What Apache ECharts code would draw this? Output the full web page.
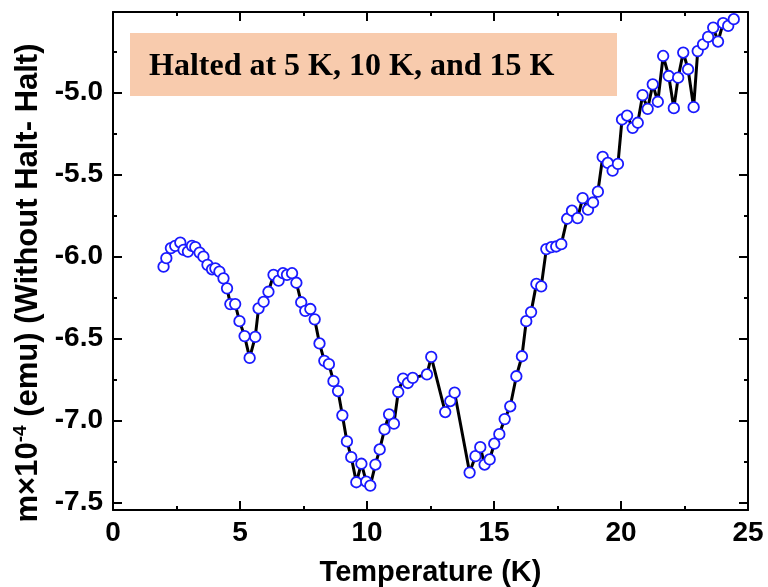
<!DOCTYPE html>
<html>
<head>
<meta charset="utf-8">
<script src="https://cdn.jsdelivr.net/npm/echarts@6/dist/echarts.min.js"></script>
<style>
html,body{margin:0;padding:0;background:#fff;}
#chart{width:768px;height:587px;}
</style>
</head>
<body>
<div id="chart"></div>
<script>
// Data
var temperature = [1.99,2.10,2.28,2.45,2.65,2.78,2.95,3.11,3.24,3.41,
  3.56,3.72,3.90,4.03,4.19,4.35,4.49,4.62,4.81,4.98,
  5.18,5.38,5.60,5.73,5.93,6.12,6.32,6.52,6.69,6.85,
  7.05,7.22,7.41,7.57,7.77,7.94,8.13,8.32,8.50,8.68,
  8.86,9.03,9.21,9.38,9.58,9.78,9.97,10.13,10.33,10.50,
  10.69,10.87,11.06,11.23,11.42,11.61,11.80,12.36,12.53,13.08,
  13.28,13.45,14.04,14.27,14.46,14.63,14.83,15.01,15.21,15.42,
  15.64,15.88,16.10,16.27,16.46,16.67,16.86,17.06,17.26,17.45,
  17.65,17.88,18.07,18.29,18.49,18.70,18.90,19.09,19.28,19.48,
  19.67,19.88,20.04,20.24,20.46,20.66,20.85,21.05,21.25,21.45,
  21.66,21.88,22.08,22.25,22.45,22.64,22.86,23.02,23.23,23.43,
  23.63,23.82,24.02,24.22,24.44];
var moment = [-6.062,-6.010,-5.949,-5.935,-5.915,-5.960,-5.970,-5.935,-5.943,-5.976,
  -6.001,-6.051,-6.078,-6.072,-6.092,-6.133,-6.194,-6.290,-6.290,-6.394,
  -6.485,-6.618,-6.490,-6.316,-6.276,-6.215,-6.112,-6.147,-6.102,-6.112,
  -6.102,-6.160,-6.279,-6.331,-6.320,-6.383,-6.530,-6.636,-6.656,-6.760,
  -6.820,-6.968,-7.127,-7.223,-7.376,-7.263,-7.372,-7.396,-7.268,-7.176,
  -7.054,-6.962,-7.019,-6.826,-6.744,-6.771,-6.740,-6.719,-6.612,-6.948,
  -6.881,-6.830,-7.317,-7.217,-7.162,-7.268,-7.237,-7.141,-7.083,-6.991,
  -6.913,-6.730,-6.608,-6.394,-6.339,-6.167,-6.182,-5.955,-5.943,-5.939,
  -5.925,-5.770,-5.721,-5.766,-5.644,-5.715,-5.671,-5.605,-5.393,-5.430,
  -5.477,-5.436,-5.165,-5.141,-5.216,-5.185,-5.017,-5.100,-4.951,-5.057,
  -4.778,-4.900,-5.096,-4.910,-4.757,-4.859,-5.090,-4.748,-4.707,-4.662,
  -4.605,-4.690,-4.578,-4.595,-4.554];
var xTicks = [0, 5, 10, 15, 20, 25];
var xMinorTicks = [2.5, 7.5, 12.5, 17.5, 22.5];
var yTicks = [-7.5, -7.0, -6.5, -6.0, -5.5, -5.0];
var yMinorTicks = [-7.25, -6.75, -6.25, -5.75, -5.25, -4.75];
var xTitle = 'Temperature (K)';
var annotation = 'Halted at 5 K, 10 K, and 15 K';

var X_MIN = 0, X_MAX = 25, Y_MIN = -7.545, Y_MAX = -4.51;
var SANS = '"Liberation Sans", Arial, sans-serif';
var SERIF = '"Liberation Serif", "Times New Roman", serif';

function makeX(idx, pos, values, len, showLine, showLabel) {
  return {
    type: 'value', gridIndex: 0, position: pos, min: X_MIN, max: X_MAX,
    axisLine: { show: showLine, onZero: false, lineStyle: { color: '#000', width: 2 } },
    axisTick: { show: true, inside: true, length: len, customValues: values, lineStyle: { color: '#000', width: 2 } },
    axisLabel: { show: showLabel, customValues: values, margin: 9, color: '#000', fontSize: 28, fontWeight: 'bold', fontFamily: SANS },
    splitLine: { show: false }
  };
}
function makeY(pos, values, len, showLine, showLabel) {
  return {
    type: 'value', gridIndex: 0, position: pos, min: Y_MIN, max: Y_MAX,
    axisLine: { show: showLine, onZero: false, lineStyle: { color: '#000', width: 2 } },
    axisTick: { show: true, inside: true, length: len, customValues: values, lineStyle: { color: '#000', width: 2 } },
    axisLabel: { show: showLabel, customValues: values, margin: 10, color: '#000', fontSize: 28, fontWeight: 'bold', fontFamily: SANS,
      formatter: function (v) { return v.toFixed(1); } },
    splitLine: { show: false }
  };
}

var xMain = makeX(0, 'bottom', xTicks, 9, true, true);
xMain.name = xTitle;
xMain.nameLocation = 'middle';
xMain.nameGap = 48;
xMain.nameTextStyle = { color: '#000', fontSize: 29, fontWeight: 'bold', fontFamily: SANS };

var yMain = makeY('left', yTicks, 9, true, true);
yMain.name = '{n|m×10}{s|-4}{n| (emu) (Without Halt- Halt)}';
yMain.nameLocation = 'middle';
yMain.nameGap = 48;
yMain.nameTextStyle = {
  color: '#000', fontSize: 31, fontWeight: 'bold', fontFamily: SANS,
  padding: [0, 44, 0, 0],
  rich: {
    n: { color: '#000', fontSize: 31, fontWeight: 'bold', fontFamily: SANS },
    s: { color: '#000', fontSize: 19, fontWeight: 'bold', fontFamily: SANS, padding: [0, 0, 16, 0] }
  }
};

var option = {
  animation: false,
  backgroundColor: '#fff',
  grid: { left: 113, right: 20, top: 12, bottom: 77, containLabel: false, outerBoundsMode: 'none' },
  xAxis: [
    xMain,
    makeX(1, 'bottom', xMinorTicks, 4, false, false),
    makeX(2, 'top', xTicks, 9, true, false),
    makeX(3, 'top', xMinorTicks, 4, false, false)
  ],
  yAxis: [
    yMain,
    makeY('left', yMinorTicks, 4, false, false),
    makeY('right', yTicks, 9, true, false),
    makeY('right', yMinorTicks, 4, false, false)
  ],
  graphic: [{
    type: 'group', left: 130, top: 33, z: 100,
    children: [
      { type: 'rect', shape: { x: 0, y: 0, width: 487, height: 63 }, style: { fill: '#f8cbad' } },
      { type: 'text', x: 19, y: 34, style: { text: annotation, fill: '#000', font: 'bold 32px ' + SERIF, textVerticalAlign: 'middle', textAlign: 'left' } }
    ]
  }],
  series: [{
    type: 'line',
    xAxisIndex: 0, yAxisIndex: 0,
    data: temperature.map(function (t, i) { return [t, moment[i]]; }),
    symbol: 'circle',
    symbolSize: 10.5,
    showAllSymbol: true,
    lineStyle: { color: '#000', width: 3 },
    itemStyle: { color: '#fff', borderColor: '#1a1aff', borderWidth: 1.8 },
    z: 3
  }]
};

var chart = echarts.init(document.getElementById('chart'), null, { renderer: 'canvas' });
chart.setOption(option);
</script>
</body>
</html>
